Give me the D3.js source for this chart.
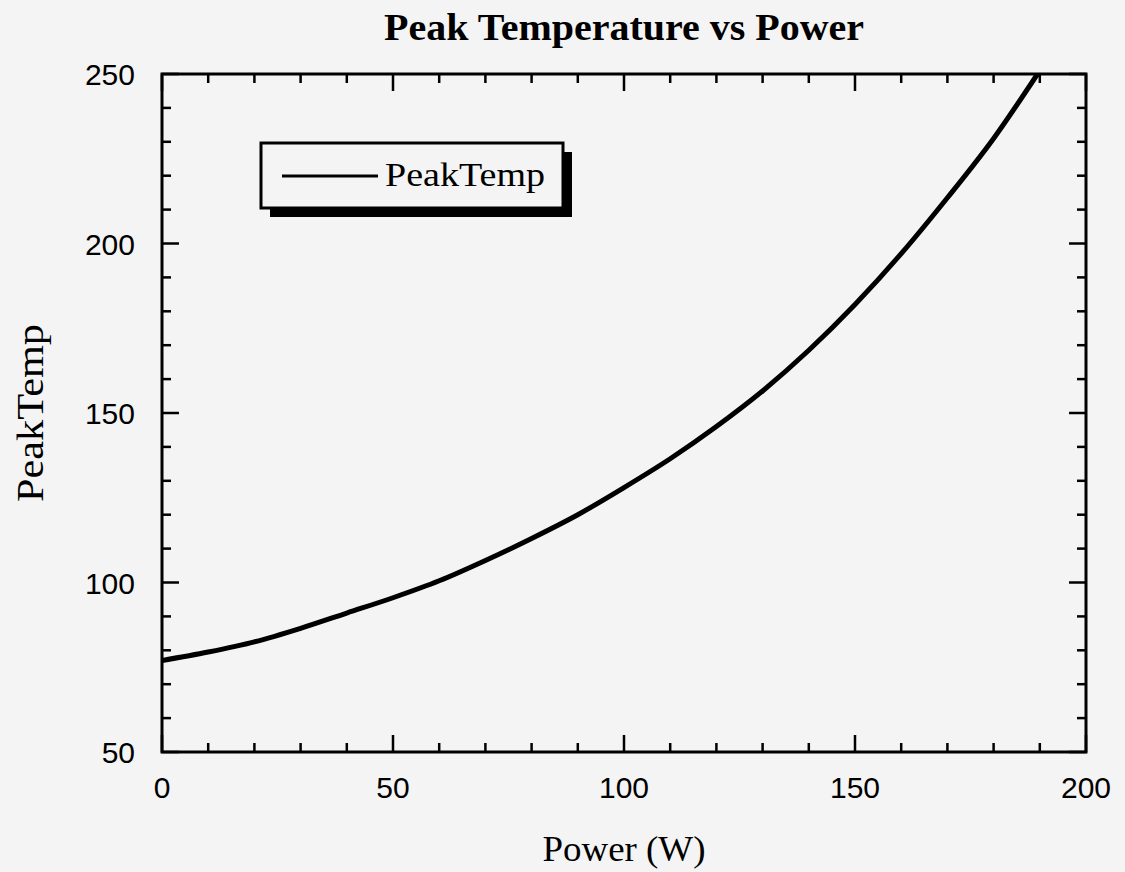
<!DOCTYPE html>
<html>
<head>
<meta charset="utf-8">
<script src="https://cdn.jsdelivr.net/npm/d3@7"></script>
<style>
  body { margin: 0; background: #f4f4f4; }
  svg { display: block; }
</style>
</head>
<body>
<svg id="chart" width="1125" height="872"></svg>
<script>
// data
const power = [0, 10, 20, 30, 40, 50, 60, 70, 80, 90, 100, 110, 120, 130, 140, 150, 160, 170, 180, 189.5];
const peakTemp = [77, 79.5, 82.5, 86.5, 91, 95.5, 100.5, 106.5, 113, 120, 128, 136.5, 146, 156.5, 168.5, 182, 197, 213.5, 231, 250];
const xTicks = [0, 50, 100, 150, 200];
const yTicks = [50, 100, 150, 200, 250];

const margin = {top: 74, right: 39, bottom: 120, left: 162};
const W = 1125, H = 872;
const width = W - margin.left - margin.right;
const height = H - margin.top - margin.bottom;

const svg = d3.select("#chart");
const g = svg.append("g").attr("transform", "translate(" + margin.left + "," + margin.top + ")");

const x = d3.scaleLinear().domain([0, 200]).range([0, width]);
const y = d3.scaleLinear().domain([50, 250]).range([height, 0]);

const serif = "'Liberation Serif', 'DejaVu Serif', serif";
const sans = "'Liberation Sans', Arial, sans-serif";

// minor + major ticks on all four sides, pointing inward
const minorX = d3.range(0, 201, 10);
const minorY = d3.range(50, 251, 10);
function tickLen(v) { return v % 50 === 0 ? 17 : 9; }

const ticks = g.append("g").attr("stroke", "#000").attr("stroke-width", 2.5);
minorX.forEach(function(v) {
  ticks.append("line").attr("x1", x(v)).attr("x2", x(v)).attr("y1", height).attr("y2", height - tickLen(v));
  ticks.append("line").attr("x1", x(v)).attr("x2", x(v)).attr("y1", 0).attr("y2", tickLen(v));
});
minorY.forEach(function(v) {
  ticks.append("line").attr("y1", y(v)).attr("y2", y(v)).attr("x1", 0).attr("x2", tickLen(v));
  ticks.append("line").attr("y1", y(v)).attr("y2", y(v)).attr("x1", width).attr("x2", width - tickLen(v));
});

// tick labels
g.append("g").selectAll("text").data(xTicks).enter().append("text")
  .attr("x", d => x(d)).attr("y", height + 46)
  .attr("text-anchor", "middle")
  .style("font-family", sans).style("font-size", "30px")
  .text(d => d);

g.append("g").selectAll("text").data(yTicks).enter().append("text")
  .attr("x", -27).attr("y", d => y(d) + 11)
  .attr("text-anchor", "end")
  .style("font-family", sans).style("font-size", "30px")
  .text(d => d);

// curve
g.append("clipPath").attr("id", "clip").append("rect")
  .attr("width", width).attr("height", height);
const pts = power.map((p, i) => [p, peakTemp[i]]);
g.append("path")
  .datum(pts)
  .attr("clip-path", "url(#clip)")
  .attr("fill", "none")
  .attr("stroke", "#000")
  .attr("stroke-width", 5)
  .attr("d", d3.line().x(d => x(d[0])).y(d => y(d[1])).curve(d3.curveMonotoneX));

// frame
g.append("rect").attr("width", width).attr("height", height)
  .attr("fill", "none").attr("stroke", "#000").attr("stroke-width", 3);

// legend box with drop shadow
const leg = svg.append("g").attr("transform", "translate(261,143)");
leg.append("rect").attr("x", 9).attr("y", 9).attr("width", 302).attr("height", 65).attr("fill", "#000");
leg.append("rect").attr("x", 0).attr("y", 0).attr("width", 302).attr("height", 65)
  .attr("fill", "#f4f4f4").attr("stroke", "#000").attr("stroke-width", 3);
leg.append("line").attr("x1", 21).attr("x2", 117).attr("y1", 33).attr("y2", 33)
  .attr("stroke", "#000").attr("stroke-width", 3);
leg.append("text").attr("x", 124).attr("y", 43)
  .attr("textLength", 160).attr("lengthAdjust", "spacingAndGlyphs")
  .style("font-family", serif).style("font-size", "33px")
  .text("PeakTemp");

// titles
svg.append("text").attr("x", margin.left + width / 2).attr("y", 40)
  .attr("text-anchor", "middle")
  .attr("textLength", 480).attr("lengthAdjust", "spacingAndGlyphs")
  .style("font-family", serif).style("font-size", "38px").style("font-weight", "bold")
  .text("Peak Temperature vs Power");

svg.append("text").attr("x", margin.left + width / 2).attr("y", 861)
  .attr("text-anchor", "middle")
  .attr("textLength", 163).attr("lengthAdjust", "spacingAndGlyphs")
  .style("font-family", serif).style("font-size", "35px")
  .text("Power (W)");

svg.append("text")
  .attr("transform", "translate(43," + (margin.top + height / 2) + ") rotate(-90)")
  .attr("text-anchor", "middle")
  .attr("textLength", 178).attr("lengthAdjust", "spacingAndGlyphs")
  .style("font-family", serif).style("font-size", "37px")
  .text("PeakTemp");
</script>
</body>
</html>
